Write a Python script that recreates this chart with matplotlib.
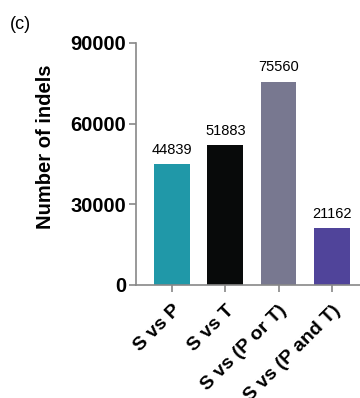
import matplotlib.pyplot as plt

plt.rcParams['font.family'] = ['Liberation Sans', 'DejaVu Sans']

categories = ['S vs P', 'S vs T', 'S vs (P or T)', 'S vs (P and T)']
counts = [44839, 51883, 75560, 21162]
colors = ['#2098a8', '#080a0a', '#787890', '#50449a']
yticks = [0, 30000, 60000, 90000]

fig = plt.figure(figsize=(3.6, 3.98), dpi=100)
ax = fig.add_axes([0.378, 0.284, 0.622, 0.608])

x = range(len(categories))
ax.bar(x, counts, width=0.675, color=colors)
for xi, v in zip(x, counts):
    ax.text(xi, v + 2800, str(v), ha='center', va='bottom', fontsize=10.5)

ax.set_xlim(-0.675, 3.53)
ax.set_ylim(0, 90000)
ax.set_yticks(yticks)
ax.set_yticklabels([str(t) for t in yticks], fontsize=14.5, fontweight='bold')
ax.set_xticks(list(x))
ax.set_xticklabels(categories, rotation=45, ha='right', rotation_mode='anchor',
                   fontsize=14, fontweight='bold')
ax.set_ylabel('Number of indels', fontsize=14.5, fontweight='bold')
ax.yaxis.set_label_coords(-0.36, 0.57)

for s in ['top', 'right']:
    ax.spines[s].set_visible(False)
for s in ['left', 'bottom']:
    ax.spines[s].set_color('#888888')
    ax.spines[s].set_linewidth(1.2)
ax.tick_params(colors='#888888', labelcolor='black', width=1.2, length=5, pad=2)
ax.tick_params(axis='x', pad=7)

fig.text(0.028, 0.96, '(c)', fontsize=13, va='top')

fig.savefig('out.png', dpi=100)
